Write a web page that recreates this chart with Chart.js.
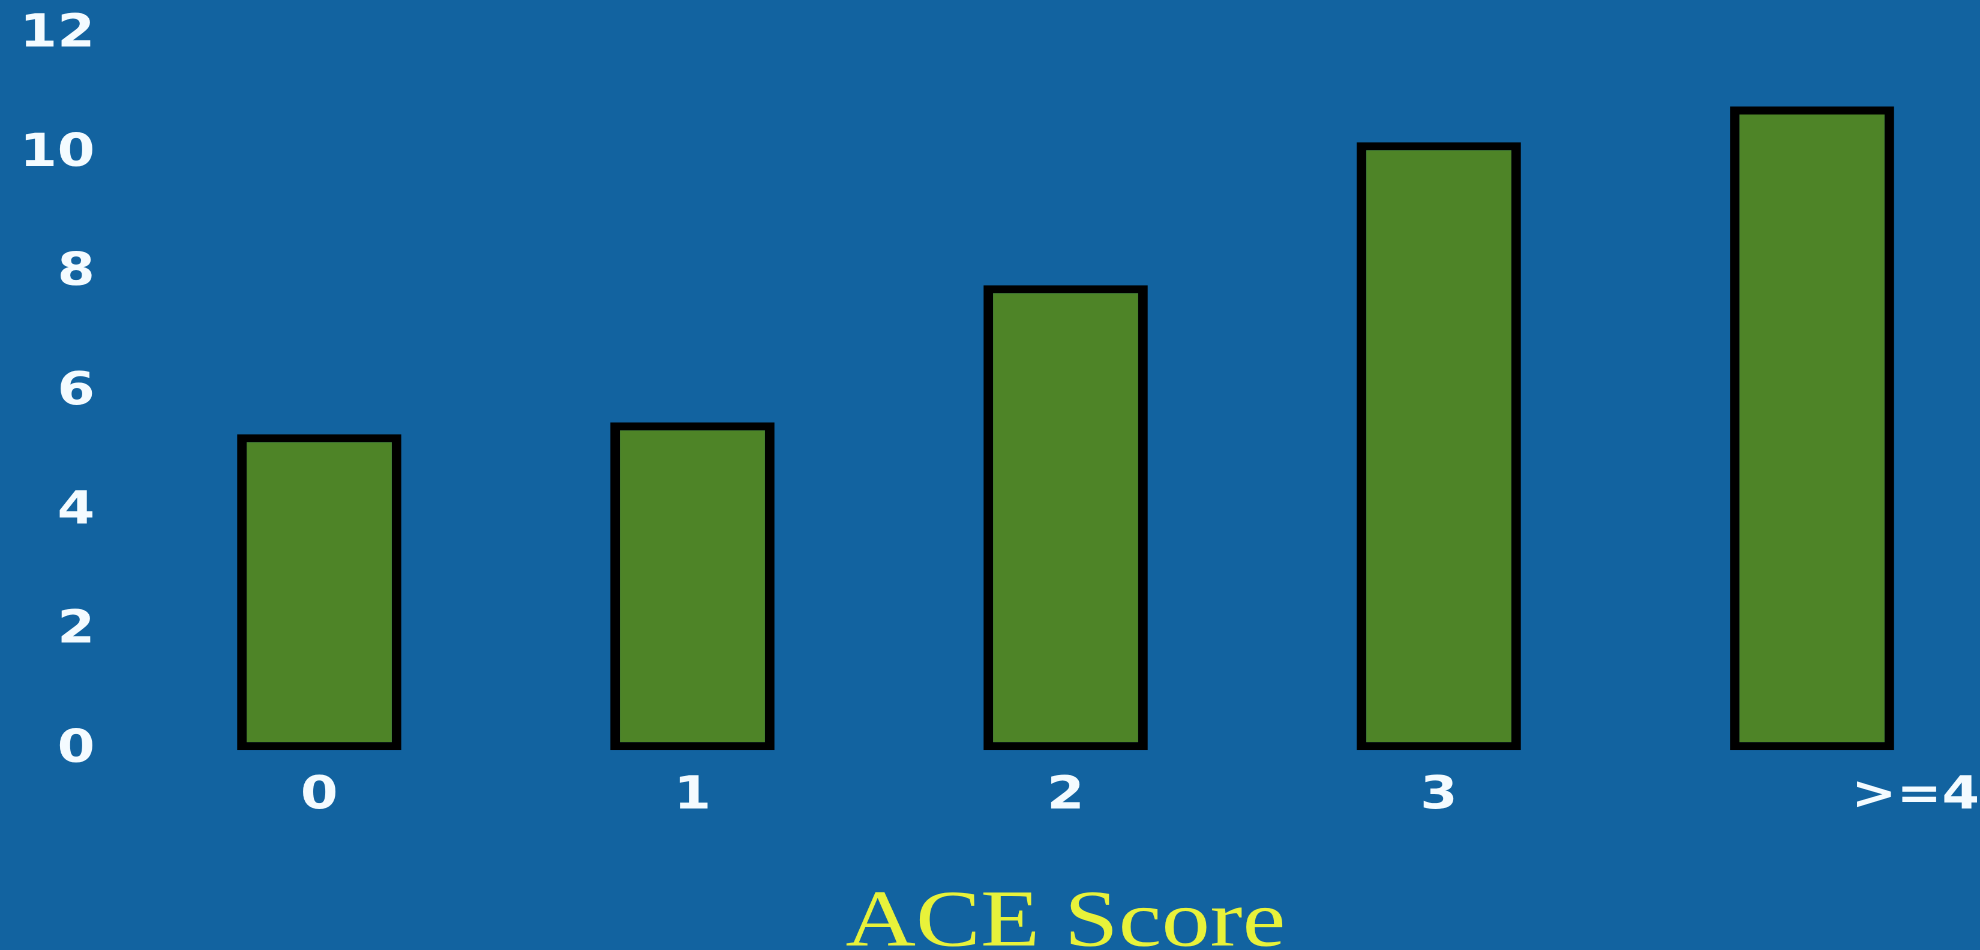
<!DOCTYPE html>
<html>
<head>
<title>ACE Score</title>
<script src="https://cdn.jsdelivr.net/npm/chart.js@4.4.1/dist/chart.umd.min.js"></script>
<style>
html, body {
margin: 0;
padding: 0;
background-color: #1263a0;
overflow: hidden;
}
/* the original slide is stretched sideways, so the chart is too */
#wrap {
width: 1650px;
height: 950px;
transform: scaleX(1.2);
transform-origin: 0 0;
}
</style>
</head>
<body>
<div id="wrap"><canvas id="bars"></canvas></div>
<script>
var categories = ["0", "1", "2", "3", ">=4"];
var values = [5.3, 5.5, 7.8, 10.2, 10.8];
var yTicks = [0, 2, 4, 6, 8, 10, 12];

var tickFont = { family: "'DejaVu Sans'", size: 45, weight: 'bold', lineHeight: 1 };

var ctx = document.getElementById('bars').getContext('2d');
var chart = new Chart(ctx, {
type: 'bar',
data: {
   labels: categories,
   datasets: [{
      data: values,
      backgroundColor: '#4e8427',
      borderColor: '#000000',
      borderWidth: 8,
      borderSkipped: false,
      categoryPercentage: 1,
      barPercentage: 0.44,
      clip: false
   }]
},
options: {
   responsive: true,
   maintainAspectRatio: false,
   devicePixelRatio: 2,
   animation: false,
   layout: { padding: { left: 16, right: 140, top: 35, bottom: 0 } },
   plugins: { legend: { display: false }, tooltip: { enabled: false } },
   scales: {
      x: {
         offset: false,
         grid: { display: false, drawTicks: false },
         border: { display: false },
         ticks: {
            color: '#f4fbff',
            font: tickFont,
            padding: 24,
            maxRotation: 0,
            autoSkip: false,
            // last label sits to the right of its bar in the original
            callback: function (v, i) {
               return i === categories.length - 1 ? '           ' + categories[i] : categories[i];
            }
         },
         title: {
            display: true,
            text: 'ACE Score',
            color: '#e8f23a',
            font: { family: "'Liberation Serif'", size: 81, lineHeight: 0.64 },
            padding: { top: 55, bottom: 0 }
         },
         afterFit: function (axis) {
            axis.paddingLeft = 0;
            axis.paddingRight = 0;
         }
      },
      y: {
         min: 0,
         max: 12,
         grid: { display: false, drawTicks: false },
         border: { display: false },
         afterBuildTicks: function (axis) {
            axis.ticks = yTicks.map(function (t) { return { value: t }; });
         },
         ticks: {
            color: '#f4fbff',
            font: tickFont,
            padding: 187
         },
         afterFit: function (axis) {
            axis.paddingTop = 0;
            axis.paddingBottom = 0;
            axis.width = 250;
         }
      }
   }
}
});
</script>
</body>
</html>
